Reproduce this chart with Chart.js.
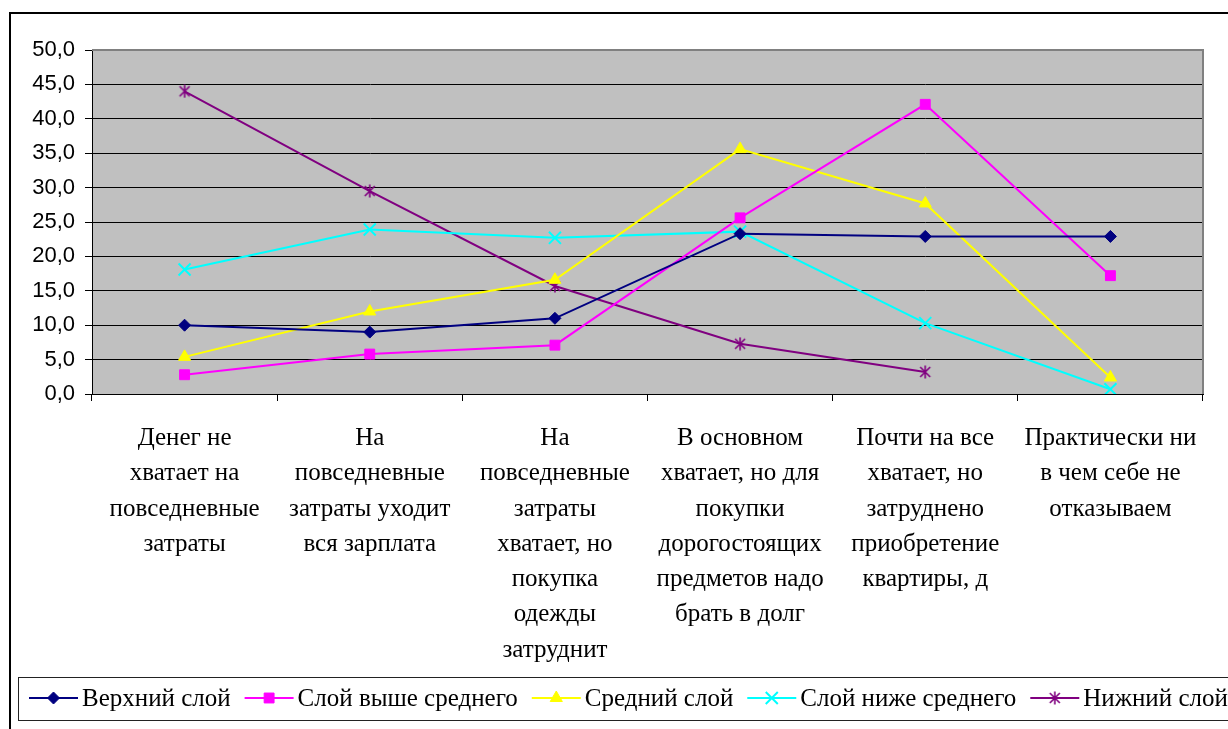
<!DOCTYPE html>
<html>
<head>
<meta charset="utf-8">
<script src="https://cdn.jsdelivr.net/npm/chart.js@4.4.0/dist/chart.umd.min.js"></script>
<style>
  html, body { margin: 0; padding: 0; background: #fff; }
  canvas { display: block; }
</style>
</head>
<body>
<canvas id="chart" width="1228" height="729"></canvas>
<script>
// Categories (multi-line labels as in the original)
const categories = [
    ['Денег не', 'хватает на', 'повседневные', 'затраты'],
    ['На', 'повседневные', 'затраты уходит', 'вся зарплата'],
    ['На', 'повседневные', 'затраты', 'хватает, но', 'покупка', 'одежды', 'затруднит'],
    ['В основном', 'хватает, но для', 'покупки', 'дорогостоящих', 'предметов надо', 'брать в долг'],
    ['Почти на все', 'хватает, но', 'затруднено', 'приобретение', 'квартиры, д'],
    ['Практически ни', 'в чем себе не', 'отказываем']
];

// Series values
const upperLayer = [10.0, 9.0, 11.0, 23.3, 22.9, 22.9];
const aboveMiddle = [2.8, 5.8, 7.1, 25.6, 42.1, 17.2];
const middleLayer = [5.4, 12.0, 16.6, 35.6, 27.7, 2.4];
const belowMiddle = [18.1, 23.9, 22.7, 23.6, 10.3, 0.7];
const lowerLayer = [44.0, 29.5, 15.7, 7.3, 3.2, null];

const seriesNames = ['Верхний слой', 'Слой выше среднего', 'Средний слой', 'Слой ниже среднего', 'Нижний слой'];
const yTicks = [0, 5, 10, 15, 20, 25, 30, 35, 40, 45, 50];

const serif = "'Liberation Serif', 'Times New Roman', serif";
const sans = "'Liberation Sans', Arial, sans-serif";

// Excel-like asterisk marker
function makeAsterisk(color) {
    const c = document.createElement('canvas');
    c.width = 14;
    c.height = 14;
    const g = c.getContext('2d');
    g.strokeStyle = color;
    g.lineWidth = 1.6;
    g.beginPath();
    g.moveTo(2, 2); g.lineTo(12, 12);
    g.moveTo(12, 2); g.lineTo(2, 12);
    g.moveTo(7, 0.5); g.lineTo(7, 13.5);
    g.stroke();
    return c;
}

const styles = [
    { color: '#000080', point: 'rectRot', radius: 6, bw: 1 },
    { color: '#FF00FF', point: 'rect', radius: 7, bw: 1 },
    { color: '#FFFF00', point: 'triangle', radius: 7, bw: 1 },
    { color: '#00FFFF', point: 'crossRot', radius: 8.5, bw: 2 },
    { color: '#800080', point: makeAsterisk('#800080'), radius: 7, bw: 1 }
];

const seriesData = [upperLayer, aboveMiddle, middleLayer, belowMiddle, lowerLayer];

const datasets = seriesData.map((d, i) => ({
    label: seriesNames[i],
    data: d,
    borderColor: styles[i].color,
    backgroundColor: styles[i].color,
    borderWidth: 2,
    tension: 0,
    pointStyle: styles[i].point,
    pointRadius: styles[i].radius,
    pointHoverRadius: styles[i].radius,
    pointBorderWidth: styles[i].bw,
    pointBackgroundColor: styles[i].color,
    pointBorderColor: styles[i].color,
    spanGaps: false
}));

// Plot background, plot border, outer frame and legend
const decorPlugin = {
    id: 'decor',
    beforeDraw(chart) {
        const ctx = chart.ctx;
        const a = chart.chartArea;
        ctx.save();
        ctx.fillStyle = '#fff';
        ctx.fillRect(0, 0, chart.width, chart.height);
        ctx.fillStyle = '#C0C0C0';
        ctx.fillRect(a.left, a.top, a.right - a.left, a.bottom - a.top);
        ctx.restore();
    },
    beforeDatasetsDraw(chart) {
        const ctx = chart.ctx;
        const a = chart.chartArea;
        ctx.save();
        ctx.strokeStyle = '#808080';
        ctx.lineWidth = 2;
        ctx.beginPath();
        ctx.moveTo(a.left, a.top);
        ctx.lineTo(a.right, a.top);
        ctx.lineTo(a.right, a.bottom);
        ctx.stroke();
        ctx.restore();
    },
    afterDraw(chart) {
        const ctx = chart.ctx;
        ctx.save();
        // outer frame
        ctx.strokeStyle = '#000';
        ctx.lineWidth = 2;
        ctx.strokeRect(10, 13, 1400, 900);

        // legend box
        ctx.lineWidth = 1;
        ctx.strokeStyle = '#222';
        ctx.strokeRect(18.5, 677.5, 1300, 43);

        ctx.font = '25px ' + serif;
        ctx.textBaseline = 'middle';
        ctx.fillStyle = '#000';
        let x = 29;
        const y = 698;
        chart.data.datasets.forEach((ds, i) => {
            ctx.strokeStyle = ds.borderColor;
            ctx.lineWidth = 2;
            ctx.beginPath();
            ctx.moveTo(x, y);
            ctx.lineTo(x + 49, y);
            ctx.stroke();
            ctx.fillStyle = ds.pointBackgroundColor;
            ctx.strokeStyle = ds.pointBorderColor;
            ctx.lineWidth = ds.pointBorderWidth;
            Chart.helpers.drawPoint(ctx, {
                pointStyle: ds.pointStyle,
                radius: ds.pointRadius,
                rotation: 0,
                borderWidth: ds.pointBorderWidth
            }, x + 24.5, y);
            ctx.fillStyle = '#000';
            ctx.fillText(ds.label, x + 53, y + 1);
            x += 53 + ctx.measureText(ds.label).width + 14;
        });
        ctx.restore();
    }
};

new Chart(document.getElementById('chart'), {
    type: 'line',
    data: {
        labels: categories,
        datasets: datasets
    },
    options: {
        responsive: false,
        animation: false,
        layout: {
            padding: { left: 0, right: 25, top: 50, bottom: 0 }
        },
        plugins: {
            legend: { display: false },
            tooltip: { enabled: false }
        },
        scales: {
            x: {
                offset: true,
                afterFit: axis => { axis.height = 335; },
                grid: {
                    offset: true,
                    drawOnChartArea: false,
                    drawTicks: true,
                    tickLength: 7,
                    tickColor: '#000'
                },
                border: { color: '#000', width: 1 },
                ticks: {
                    autoSkip: false,
                    maxRotation: 0,
                    minRotation: 0,
                    padding: 20,
                    color: '#000',
                    font: { family: serif, size: 25, lineHeight: 1.41 }
                }
            },
            y: {
                min: 0,
                max: 50,
                afterFit: axis => { axis.width = 92; },
                afterBuildTicks: axis => {
                    axis.ticks = yTicks.map(v => ({ value: v }));
                },
                grid: {
                    color: c => (c.tick && c.tick.value === 50) ? '#808080' : '#000',
                    tickColor: '#000',
                    tickLength: 7,
                    lineWidth: 1
                },
                border: { color: '#000', width: 1 },
                ticks: {
                    padding: 10,
                    color: '#000',
                    font: { family: sans, size: 22 },
                    callback: v => v.toFixed(1).replace('.', ',')
                }
            }
        }
    },
    plugins: [decorPlugin]
});
</script>
</body>
</html>
